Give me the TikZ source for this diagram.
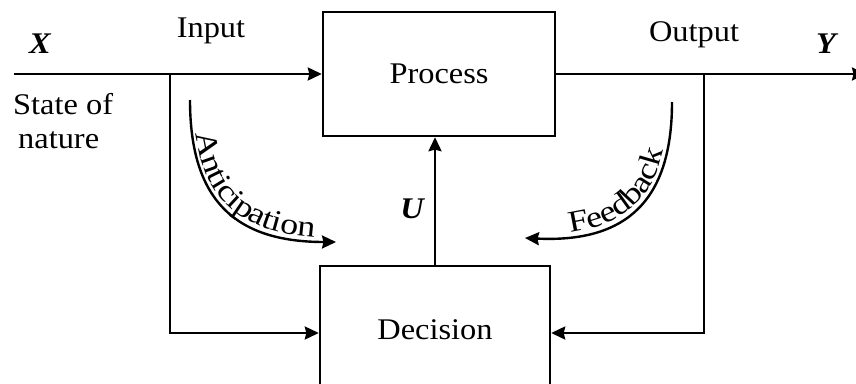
\documentclass[tikz,border=0pt]{standalone}
\usepackage{fontspec}
\setmainfont{Liberation Serif}[FakeStretch=1.08]
\newfontfamily\arcfont{Liberation Serif}[FakeStretch=1.2]
\usetikzlibrary{arrows.meta,decorations.text}

\begin{document}
\begin{tikzpicture}[x=1pt,y=1pt,
  font=\fontsize{30}{34}\selectfont,
  wire/.style={line width=2.4pt},
  tip/.style={-{Stealth[length=14pt,width=13pt,inset=1.5pt]}},
  box/.style={draw, line width=2.4pt, minimum width=232pt, minimum height=124pt, inner sep=0pt},
  var/.style={font=\fontsize{30}{34}\selectfont\bfseries\itshape, inner sep=0pt},
  lab/.style={inner sep=0pt},
  arctext/.style={decorate, decoration={text along path, raise=4pt, #1}}]
\useasboundingbox (0,0) rectangle (856,-383);

% blocks
\node[box] (proc) at (439,-74) {Process};
\node[box, minimum width=230pt, minimum height=128pt] (dec) at (435,-330) {Decision};

% labels
\node[var] (x) at (40,-44) {X};
\node[var] (y) at (826,-44) {Y};
\node[var] (u) at (412,-209) {U};
\node[lab] (inp) at (211,-31) {Input};
\node[lab] (outp) at (694,-35) {Output};
\node[lab, align=left, anchor=west] (nat) at (13,-121) {State of\\ \,nature};

% main signal line
\coordinate (src) at (14,-74);
\coordinate (sink) at (866,-74);
\coordinate (bin) at (170,-74);
\coordinate (bout) at (704,-74);
\draw[wire, tip] (src) -- (proc.west);
\draw[wire, tip] (proc.east) -- (sink);

% branches into the decision block
\draw[wire, tip] (bin) |- ([yshift=-3pt]dec.west);
\draw[wire, tip] (bout) |- ([yshift=-3pt]dec.east);

% control signal U
\draw[wire, tip] (dec.north) -- (dec.north |- proc.south);

% anticipation arc
\coordinate (a0) at (190,-100);
\coordinate (a1) at (336,-242);
\draw[wire, tip] (a0) .. controls (190,-199) and (234,-242) .. (a1);
\path[arctext={text align={align=left, left indent=34pt},
  text={|\arcfont\fontsize{30}{34}\selectfont|Anticipation}}]
  (a0) .. controls (190,-199) and (234,-242) .. (a1);

% feedback arc
\coordinate (f0) at (672,-102);
\coordinate (f1) at (525,-238);
\draw[wire, tip] (f0) .. controls (672,-199) and (628,-243) .. (f1);
\path[arctext={text align={align=right, right indent=50pt},
  text={|\arcfont\fontsize{30}{34}\selectfont|Feedback}}]
  (f1) .. controls (628,-243) and (672,-199) .. (f0);
\end{tikzpicture}
\end{document}
